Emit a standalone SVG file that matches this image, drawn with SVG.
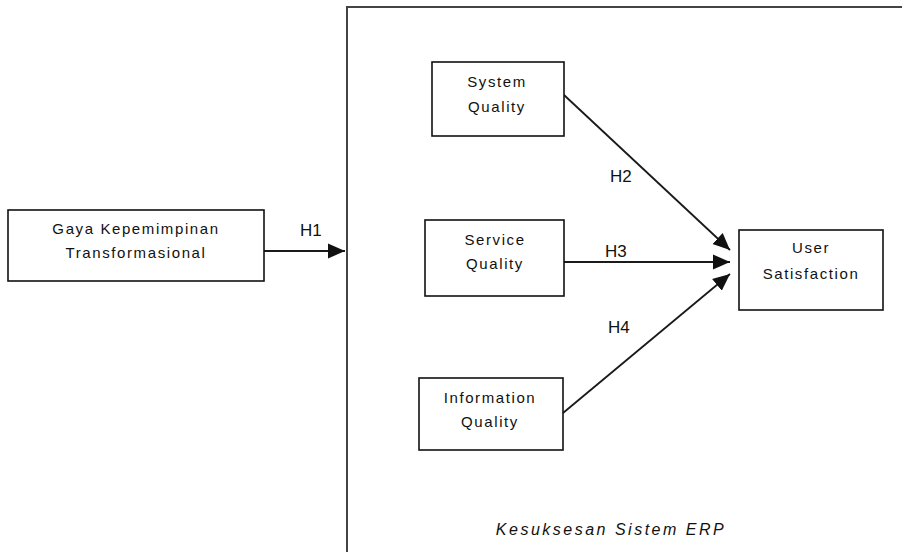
<svg xmlns="http://www.w3.org/2000/svg" width="902" height="552" viewBox="0 0 902 552">
  <style>
    .box { fill: #fff; stroke: #111; stroke-width: 1.6; }
    .lbl { font-family: "Liberation Sans", Arial, sans-serif; font-size: 15px; letter-spacing: 1.6px; fill: #111; text-anchor: middle; }
    .caption { font-style: italic; font-size: 16px; letter-spacing: 2.5px; }
    .hyp { font-family: "Liberation Sans", Arial, sans-serif; font-size: 17px; fill: #111; }
    .edge { stroke: #1a1a1a; stroke-width: 1.8; fill: none; marker-end: url(#arrow); }
  </style>
  <defs>
    <marker id="arrow" markerUnits="userSpaceOnUse" markerWidth="19" markerHeight="17" refX="17" refY="8.5" orient="auto">
      <path d="M0,1 L17,8.5 L0,16 Z" fill="#111"/>
    </marker>
  </defs>

  <rect width="902" height="552" fill="#fff"/>

  <!-- outer frame for the ERP success construct -->
  <g id="erp-frame">
    <path d="M904,7 L347,7 L347,554" fill="none" stroke="#444" stroke-width="2"/>
    <text x="611" y="535" class="lbl caption">Kesuksesan Sistem ERP</text>
  </g>

  <g id="connectors">
    <line class="edge" x1="264" y1="251" x2="345" y2="251"/>
    <line class="edge" x1="564" y1="95" x2="730" y2="250"/>
    <line class="edge" x1="564" y1="262" x2="730" y2="262"/>
    <line class="edge" x1="563" y1="413" x2="730" y2="274"/>
    <text class="hyp" x="300" y="236">H1</text>
    <text class="hyp" x="610" y="182">H2</text>
    <text class="hyp" x="605" y="257">H3</text>
    <text class="hyp" x="608" y="333">H4</text>
  </g>

  <g id="gaya">
    <rect class="box" x="8" y="210" width="256" height="71"/>
    <text class="lbl" x="136" y="234">Gaya Kepemimpinan</text>
    <text class="lbl" x="136" y="258">Transformasional</text>
  </g>

  <g id="system-quality">
    <rect class="box" x="432" y="62" width="132" height="74"/>
    <text class="lbl" x="497" y="87">System</text>
    <text class="lbl" x="497" y="112">Quality</text>
  </g>

  <g id="service-quality">
    <rect class="box" x="425" y="220" width="139" height="76"/>
    <text class="lbl" x="495" y="245">Service</text>
    <text class="lbl" x="495" y="269">Quality</text>
  </g>

  <g id="information-quality">
    <rect class="box" x="419" y="378" width="144" height="72"/>
    <text class="lbl" x="490" y="403">Information</text>
    <text class="lbl" x="490" y="427">Quality</text>
  </g>

  <g id="user-satisfaction">
    <rect class="box" x="739" y="230" width="144" height="80"/>
    <text class="lbl" x="811" y="253">User</text>
    <text class="lbl" x="811" y="279">Satisfaction</text>
  </g>
</svg>
